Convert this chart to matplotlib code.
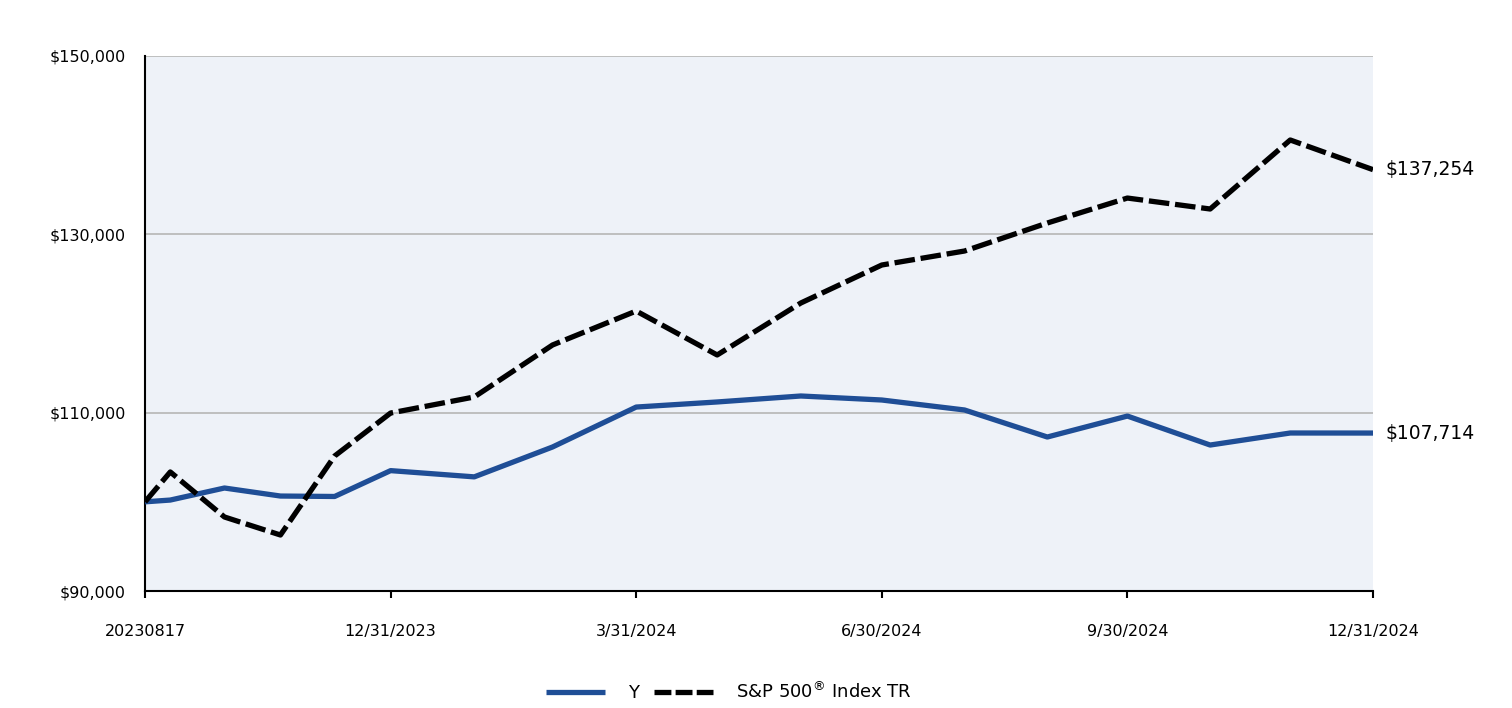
import matplotlib
matplotlib.use("Agg")
import matplotlib.pyplot as plt
from matplotlib.lines import Line2D
import numpy as np
import pandas as pd

dates = ["2023-08-17", "2023-08-31", "2023-09-30", "2023-10-31", "2023-11-30", "2023-12-31",
         "2024-01-31", "2024-02-29", "2024-03-31", "2024-04-30", "2024-05-31", "2024-06-30",
         "2024-07-31", "2024-08-31", "2024-09-30", "2024-10-31", "2024-11-30", "2024-12-31"]
fund_values = [100000, 100200, 101550, 100650, 100600, 103500, 102800, 106150, 110630, 111200,
               111870, 111420, 110300, 107270, 109620, 106370, 107720, 107714]
index_values = [100000, 103350, 98300, 96280, 105140, 109960, 111760, 117590, 121400, 116470,
                122300, 126560, 128130, 131270, 134070, 132840, 140580, 137254]
tick_dates = ["2023-08-17", "2023-12-31", "2024-03-31", "2024-06-30", "2024-09-30", "2024-12-31"]
tick_labels = ["20230817", "12/31/2023", "3/31/2024", "6/30/2024", "9/30/2024", "12/31/2024"]
fund_name = "Y"
index_name = "S&P 500$^{®}$ Index TR"

d = pd.to_datetime(dates).map(pd.Timestamp.toordinal).values.astype(float)
td = pd.to_datetime(tick_dates).map(pd.Timestamp.toordinal).values.astype(float)
tpos = np.arange(len(td), dtype=float)
x = np.interp(d, td, tpos)

fig = plt.figure(figsize=(15.12, 7.08), dpi=100)
ax = fig.add_axes([145/1512, 1-591/708, (1373-145)/1512, (591-56)/708])
ax.set_facecolor("#EEF2F8")

blue = "#1F4E96"
ax.plot(x, fund_values, color=blue, lw=3.8, solid_capstyle="butt", zorder=3)
ax.plot(x, index_values, color="black", lw=3.8, dashes=(3.9, 1.1), zorder=4)

ax.set_xlim(0, len(td) - 1)
ax.set_ylim(90000, 150000)
yt = [90000, 110000, 130000, 150000]
ax.set_yticks(yt)
ax.set_yticklabels([f"${v:,.0f}" for v in yt], fontsize=11.5)
ax.set_xticks(tpos)
ax.set_xticklabels(tick_labels, fontsize=11.5)
ax.yaxis.grid(True, color="#BBBBBB", lw=1.3)
ax.set_axisbelow(True)
for s in ["top", "right"]:
    ax.spines[s].set_visible(False)
ax.spines["left"].set_linewidth(1.5)
ax.spines["bottom"].set_linewidth(1.5)
ax.tick_params(axis="y", length=0, pad=14)
ax.tick_params(axis="x", length=5, width=1.5, pad=19, direction="out")

ax.annotate(f"${index_values[-1]:,.0f}", xy=(x[-1], index_values[-1]), xytext=(9, 0),
            textcoords="offset points", va="center", ha="left", fontsize=13.5, annotation_clip=False)
ax.annotate(f"${fund_values[-1]:,.0f}", xy=(x[-1], fund_values[-1]), xytext=(9, 0),
            textcoords="offset points", va="center", ha="left", fontsize=13.5, annotation_clip=False)

handles = [Line2D([], [], color=blue, lw=3.8, solid_capstyle="butt"),
           Line2D([], [], color="black", lw=3.8, dashes=(3.2, 0.8))]
fig.legend(handles, [fund_name, index_name], loc="center", bbox_to_anchor=(0.482, 1-692/708),
           ncol=2, frameon=False, fontsize=13, handlelength=3.27, columnspacing=0.8, handletextpad=1.3)

fig.savefig("out.png", dpi=100)
